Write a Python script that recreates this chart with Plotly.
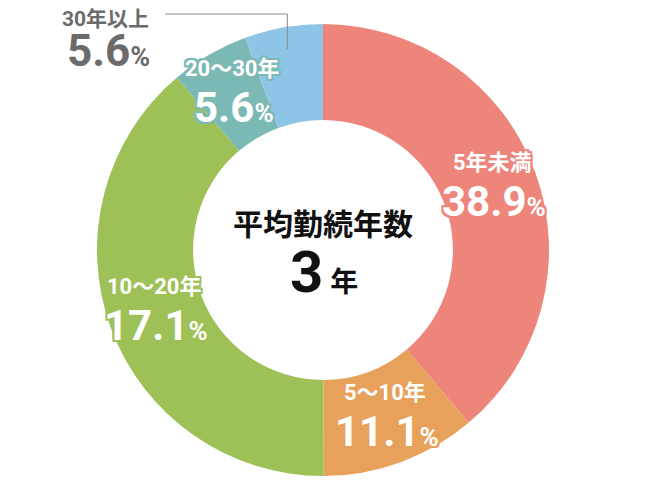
import math
import plotly.graph_objects as go

# ---- data ----
categories = ["5年未満", "5〜10年", "10〜20年", "20〜30年", "30年以上"]
# slice sizes as they are drawn (the green slice is drawn at ~38.9 though it is printed 17.1)
shares = [38.9, 11.1, 38.9, 5.6, 5.6]
printed_pct = ["38.9", "11.1", "17.1", "5.6", "5.6"]
colors = ["#EE857B", "#E8A15A", "#9DC156", "#7BB9B4", "#8EC4E6"]
center_title = "平均勤続年数"
center_value = "3"
center_unit = "年"

W, H = 650, 500
OFF = 8          # page body margin, the figure div starts at (8, 8)
cx, cy, R = 323, 250, 226
hole = 0.575


def px(x):
    return (x - OFF) / W


def py(y):
    return 1 - (y - OFF) / H


def halo(c, d=2):
    offs = [(-d, -d), (d, -d), (-d, d), (d, d), (0, d), (d, 0), (0, -d), (-d, 0)]
    return ", ".join(f"{a}px {b}px 0 {c}" for a, b in offs)


def note(x, y, text, size, color, shadow="none", family="Roboto, Noto Sans CJK JP"):
    return dict(x=px(x), y=py(y), xref="paper", yref="paper",
                xanchor="center", yanchor="middle", showarrow=False,
                text=text, align="center",
                font=dict(family=family, size=size, color=color,
                          weight="bold", shadow=shadow))


fig = go.Figure(go.Pie(
    labels=categories,
    values=shares,
    hole=hole,
    sort=False,
    direction="clockwise",
    rotation=0,
    marker=dict(colors=colors, line=dict(width=0)),
    textinfo="none",
    hoverinfo="label",
    showlegend=False,
    domain=dict(x=[px(cx) - 0.4, px(cx) + 0.4],
                y=[py(cy) - R / H, py(cy) + R / H]),
))

total = sum(shares)
cum = 0
annotations = []
shapes = []
for i, (cat, v) in enumerate(zip(categories, shares)):
    mid = math.radians((cum + v / 2) / total * 360)
    cum += v
    if i < 4:
        r = 180
        bx = cx + r * math.sin(mid)
        by = cy - r * math.cos(mid)
        annotations.append(note(bx, by - 26, cat, 22, "white", halo(colors[i])))
        annotations.append(note(bx + 2, by + 13,
                                f"{printed_pct[i]}<span style='font-size:26px'>%</span>",
                                42, "white", halo(colors[i])))
    else:
        # outside label with leader line
        r = 204
        ex = cx + r * math.sin(mid)
        ey = cy - r * math.cos(mid)
        ly = 14
        shapes.append(dict(type="path", xref="paper", yref="paper",
                           path=f"M {px(165)} {py(ly)} L {px(ex)} {py(ly)} L {px(ex)} {py(ey)}",
                           line=dict(color="#8a8a8a", width=1)))
        annotations.append(note(105, 19, cat, 21, "#6b6b6b"))
        annotations.append(note(108, 51,
                                f"{printed_pct[i]}<span style='font-size:27px'>%</span>",
                                44, "#6b6b6b"))

annotations.append(note(cx, 222, center_title, 30, "#111111", family="Noto Sans CJK JP"))
annotations.append(note(cx + 1, 272,
                        f"{center_value}<span style='font-size:28px'> {center_unit}</span>",
                        58, "#111111"))

fig.update_layout(
    width=W, height=H,
    margin=dict(l=0, r=0, t=0, b=0),
    paper_bgcolor="white",
    plot_bgcolor="white",
    annotations=annotations,
    shapes=shapes,
)

fig.write_html("out.html")
